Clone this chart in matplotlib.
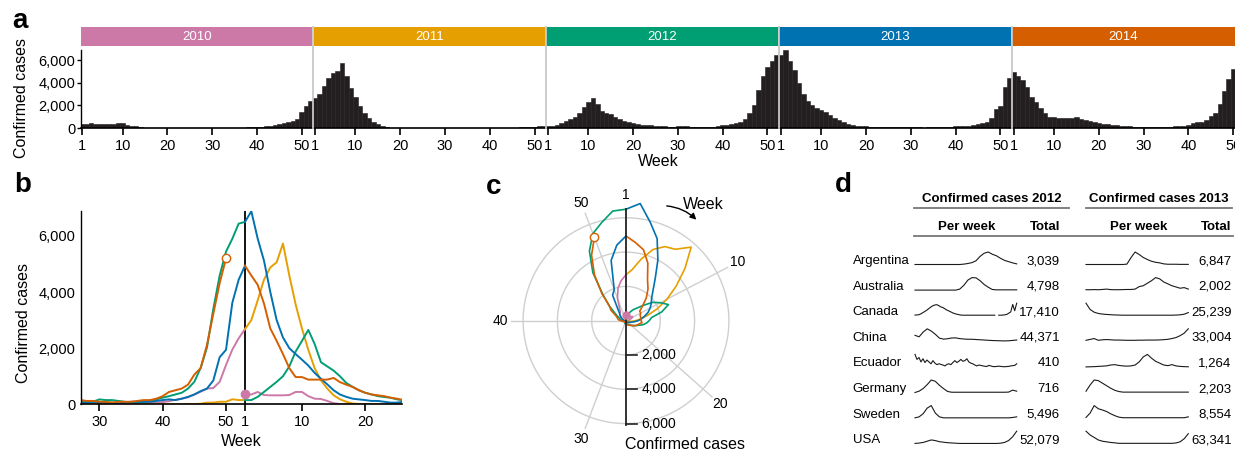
import numpy as np
import matplotlib
matplotlib.use('Agg')
import matplotlib.pyplot as plt
import matplotlib.transforms as mtransforms
from matplotlib.patches import Rectangle
from matplotlib.ticker import FuncFormatter

plt.rcParams['font.family'] = ['Liberation Sans', 'DejaVu Sans']

# weekly confirmed cases
years = [2010, 2011, 2012, 2013, 2014]
year_colors = ['#CC79A7', '#E69F00', '#009E73', '#0072B2', '#D55E00']

cases_2010 = [350, 350, 440, 330, 320, 320, 320, 330, 440, 440,
              290, 200, 190, 120, 40, 10, 5, 5, 0, 0,
              0, 0, 0, 0, 0, 0, 0, 0, 0, 0,
              0, 0, 10, 10, 20, 30, 40, 50, 60, 80,
              110, 160, 200, 250, 350, 450, 560, 580, 800, 1400,
              1950, 2350]
cases_2011 = [2680, 3000, 3700, 4440, 4880, 5060, 5730, 4590, 3560, 2700,
              1940, 1290, 850, 560, 320, 180, 90, 30, 10, 5,
              0, 0, 0, 0, 0, 0, 0, 0, 0, 0,
              0, 0, 0, 0, 0, 0, 0, 0, 0, 0,
              0, 0, 0, 5, 10, 20, 60, 60, 90, 90,
              180, 150]
cases_2012 = [150, 150, 265, 440, 620, 800, 1000, 1350, 1880, 2260,
              2650, 2150, 1500, 1350, 1200, 1000, 760, 620, 500, 410,
              350, 290, 260, 235, 175, 150, 150, 90, 90, 175,
              150, 150, 120, 90, 60, 60, 90, 120, 175, 235,
              290, 350, 410, 560, 800, 1300, 2030, 3400, 4590, 5440,
              5900, 6440]
cases_2013 = [6500, 6880, 5910, 5120, 4000, 3000, 2380, 2000, 1790, 1590,
              1380, 1120, 910, 710, 500, 350, 265, 200, 175, 150,
              120, 120, 90, 60, 60, 90, 60, 60, 90, 60,
              60, 60, 30, 60, 90, 90, 90, 90, 120, 150,
              175, 150, 200, 265, 350, 470, 560, 850, 1680, 1940,
              3620, 4440]
cases_2014 = [4940, 4590, 4260, 3590, 2700, 2260, 1790, 1290, 970, 970,
              880, 880, 880, 880, 940, 790, 700, 620, 500, 410,
              350, 320, 290, 235, 200, 150, 150, 120, 120, 90,
              90, 60, 90, 90, 90, 120, 150, 150, 200, 290,
              440, 500, 560, 700, 1060, 1290, 2120, 3230, 4320, 5200]
weekly_cases = [cases_2010, cases_2011, cases_2012, cases_2013, cases_2014]

# panel d: per-country weekly shapes (relative) and totals
countries = ['Argentina', 'Australia', 'Canada', 'China', 'Ecuador', 'Germany', 'Sweden', 'USA']
totals_2012 = [3039, 4798, 17410, 44371, 410, 716, 5496, 52079]
totals_2013 = [6847, 2002, 25239, 33004, 1264, 2203, 8554, 63341]

arg_2012 = [0, 0, 0, 0, 0, 0, 0, 0, 0, 0, 0, 0, 0.3, 0.8, 1.5, 3, 6.5, 9, 10, 8.2, 7, 5, 3.3, 2.3, 1.3, 0.5]
arg_2013 = [0, 0, 0, 0, 0, 0, 0, 0, 0, 0, 0.3, 5.5, 10, 8, 5.6, 4, 2.6, 1.8, 1.3, 0.5, 0.2, 0.2, 0.2, 0.1, 0.1, 0.1]
aus_2012 = [0, 0, 0, 0, 0, 0, 0, 0, 0, 0, 0, 0.8, 3.8, 8, 10, 9.8, 7.5, 4.5, 2.3, 0.5, 0.2, 0.2, 0.2, 0.2, 0.2, 0.2]
aus_2013 = [0.3, 0.3, 0.4, 0.3, 0.5, 0.8, 0.4, 0.3, 0.3, 0.4, 0.5, 0.5, 0.8, 2.8, 3.5, 5.5, 7.5, 10, 9, 6.5, 5, 3.5, 2.5, 1.5, 2, 0.8]
can_2012 = [0.5, 0.6, 0.8, 1.5, 2.5, 3.5, 4.5, 5.8, 7, 8, 8.6, 8.8, 8, 7, 6.5, 5.5, 4.5, 3.8, 3, 2.2,
            1.6, 1.2, 0.8, 0.5, 0.4, 0.4, 0.4, 0.4, 0.4, 0.4, 0.4, 0.4, 0.4, 0.4, 0.4, 0.4, 0.4, 0.4, 0.4, 0.4,
            0.4, np.nan, 0.4, 0.4, 0.5, 0.7, 1, 2, 3, 9, 4, 10]
can_2013 = [10, 5, 2.8, 1.8, 1.3, 1, 0.8, 0.6, 0.5, 0.4, 0.4, 0.4, 0.4, 0.4, 0.4, 0.4, 0.4, 0.4, 0.4, 0.4, 0.4, 0.4, 0.5, 0.7, 1.2, 2.5]
chn_2012 = [4.7, 3.5, 7.2, 9.8, 8, 5.5, 2.5, 1.7, 2, 2.6, 2.7, 2.1, 1.8, 1.6, 1.6, 1.4, 1.2, 1, 0.8, 0.6, 0.5, 0.4, 0.3, 0.4, 0.7, 1]
chn_2013 = [0.8, 1.5, 2.2, 0.8, 1.2, 1.4, 1.2, 1, 1, 0.9, 0.8, 0.8, 0.8, 0.9, 0.9, 1, 1, 1, 1.1, 1.3, 1.6, 2.2, 3, 4.5, 6.5, 10]
ecu_2012 = [10, 6, 7.5, 4, 6.5, 3.5, 5.5, 4, 2.5, 5, 3, 1.8, 2.5, 2, 1.5, 0.8, 2, 2.5, 1.8, 3.5,
            5, 3.5, 4.5, 6, 4.5, 5, 6.5, 4, 3, 2.5, 1.5, 0.8, 1.5, 1.2, 0.8, 0.5, 0.3, 1.2, 0.8, 0.3,
            0.2, 0.4, 0.6, 0.4, 0.2, 0.1, 0.3, 0.4, 0.8, 1, 1.2, 2.5]
ecu_2013 = [0, 0.1, 0.2, 0.4, 0.6, 0.8, 1.5, 1.8, 1.2, 0.8, 0.6, 0.8, 1.5, 4, 8, 10, 7, 4.5, 3, 1.5, 1, 1.8, 0.8, 0.4, 0.2, 0.1]
ger_2012 = [0, 1, 3, 6, 9.5, 8.5, 5.5, 3, 0.8, 0.2, 0.2, 0.2, 0.2, 0.2, 0.2, 0.2, 0.2, 0.2, 0.2, 0.2, 0.2, 0.2, 0.2, 0.3, 1.8, 1]
ger_2013 = [1, 6, 10, 9.5, 7.5, 5.5, 3.5, 1.8, 0.8, 0.3, 0.3, 0.3, 0.3, 0.3, 0.3, 0.3, 0.3, 0.3, 0.3, 0.3, 0.3, 0.3, 0.3, 0.3, 0.3, 0.3]
swe_2012 = [0.2, 1, 3.5, 8, 10, 4, 1, 0.2, 0.2, 0.2, 0.2, 0.2, 0.2, 0.2, 0.2, 0.2, 0.2, 0.2, 0.2, 0.2, 0.2, 0.2, 0.2, 0.2, 0.5, 1]
swe_2013 = [0.5, 4, 10, 7.5, 6.5, 5.3, 3.5, 2, 0.8, 0.3, 0.3, 0.3, 0.3, 0.3, 0.3, 0.3, 0.3, 0.3, 0.3, 0.3, 0.3, 0.3, 0.3, 0.3, 0.3, 1]
usa_2012 = [0.2, 0.5, 1, 2, 3, 2.5, 1.6, 1.2, 0.8, 0.6, 0.4, 0.2, 0.2, 0.2, 0.2, 0.2, 0.2, 0.2, 0.2, 0.2, 0.2, 0.4, 1, 2.5, 5.5, 10]
usa_2013 = [10, 7, 5, 3, 2, 1.5, 1, 0.7, 0.3, 0.3, 0.3, 0.3, 0.3, 0.3, 0.3, 0.3, 0.3, 0.3, 0.3, 0.3, 0.3, 0.3, 0.6, 1.5, 4, 8]
spark_2012 = [arg_2012, aus_2012, can_2012, chn_2012, ecu_2012, ger_2012, swe_2012, usa_2012]
spark_2013 = [arg_2013, aus_2013, can_2013, chn_2013, ecu_2013, ger_2013, swe_2013, usa_2013]

W, H = 1235, 451
fig = plt.figure(figsize=(W / 100, H / 100), dpi=100)
BAR = '#231f20'


def axes_px(left, top, right, bottom):
    return fig.add_axes([left / W, 1 - bottom / H, (right - left) / W, (bottom - top) / H])


def panel_letter(x, y, s):
    fig.text(x / W, 1 - y / H, s, fontsize=20, fontweight='bold', ha='left', va='center')


comma = FuncFormatter(lambda v, p: f'{v:,.0f}')

# ---- panel a: weekly histogram 2010-2014
ax = axes_px(81, 50, 1235, 128)
for i, vals in enumerate(weekly_cases):
    t = 52 * i + np.arange(len(vals))
    ax.bar(t, vals, width=1.0, color=BAR, edgecolor=BAR, linewidth=0.4)
ax.set_xlim(-0.29, 257.4)
ax.set_ylim(0, 6900)
trans = mtransforms.blended_transform_factory(ax.transData, ax.transAxes)
xl = ax.get_xlim()
for i, (yr, col) in enumerate(zip(years, year_colors)):
    x0 = max(52 * i - 0.5, xl[0]) + (0.15 if i > 0 else 0)
    x1 = min(52 * i + 51.5, xl[1]) - (0.15 if i < 4 else 0)
    ax.add_patch(Rectangle((x0, 1.055), x1 - x0, 0.236, transform=trans,
                           facecolor=col, linewidth=0, clip_on=False))
    ax.text((x0 + x1) / 2, 1.173, str(yr), transform=trans, ha='center', va='center',
            color='white', fontsize=9.5)
for i in range(1, 5):
    ax.plot([52 * i - 0.5] * 2, [0, 1.291], transform=trans, color='#c8c8c8', lw=1.3,
            clip_on=False, zorder=3)
week_ticks = [1, 10, 20, 30, 40, 50]
ax.set_xticks([52 * i + w - 1 for i in range(5) for w in week_ticks])
ax.set_xticklabels([str(w) for i in range(5) for w in week_ticks])
ax.set_yticks([0, 2000, 4000, 6000])
ax.yaxis.set_major_formatter(comma)
for s in ('top', 'right'):
    ax.spines[s].set_visible(False)
ax.spines['bottom'].set_linewidth(1.2)
ax.spines['left'].set_linewidth(1.0)
ax.tick_params(axis='x', length=5, width=1.2, labelsize=10.5, pad=3)
ax.tick_params(axis='y', length=3, width=1, labelsize=10.5, pad=1)
ax.set_xlabel('Week', fontsize=11.5, labelpad=1)
ax.set_ylabel('Confirmed cases', fontsize=11.5)
ax.yaxis.set_label_coords(-0.045, 0.39)
panel_letter(12, 21, 'a')

# ---- panel b: seasons overlaid, week 27 .. week 26
axb = axes_px(81, 210.7, 401.7, 404.3)
for i, (vals, col) in enumerate(zip(weekly_cases, year_colors)):
    left = list(vals[26:])
    if i + 1 < len(weekly_cases):
        left.append(weekly_cases[i + 1][0])
    axb.plot(np.arange(len(left)) - 26, left, color=col, lw=1.4, zorder=2 + i * 0.1)
    right = vals[:26]
    axb.plot(np.arange(len(right)), right, color=col, lw=1.4, zorder=2 + i * 0.1)
axb.plot([0], [cases_2010[0]], 'o', color=year_colors[0], ms=6, zorder=4)
axb.plot([len(cases_2014) - 53], [cases_2014[-1]], 'o', mfc='white', mec=year_colors[4],
         ms=6, mew=1, zorder=4)
axb.axvline(0, color='black', lw=1.3, zorder=1.5)
axb.set_xlim(-25.9, 24.75)
axb.set_ylim(0, 6900)
axb.set_xticks([-23, -13, -3, 0, 9, 19])
axb.set_xticklabels(['30', '40', '50', '1', '10', '20'])
axb.set_yticks([0, 2000, 4000, 6000])
axb.yaxis.set_major_formatter(comma)
for s in ('top', 'right'):
    axb.spines[s].set_visible(False)
axb.spines['bottom'].set_linewidth(1.2)
axb.spines['left'].set_linewidth(1.0)
axb.tick_params(axis='x', length=5, width=1.2, labelsize=10.5, pad=3)
axb.tick_params(axis='y', length=0, labelsize=10.5, pad=4)
axb.set_xlabel('Week', fontsize=11.5, labelpad=3)
axb.set_ylabel('Confirmed cases', fontsize=11.5)
axb.yaxis.set_label_coords(-0.155, 0.42)
panel_letter(14, 185, 'b')

# ---- panel c: polar view, week 1 at top, clockwise
axc = axes_px(470, 180, 790, 451)
axc.axis('off')
cx, cy = 626, 320.7
k = 34.3 / 2000
axc.set_xlim((470 - cx) / k, (790 - cx) / k)
axc.set_ylim((cy - 451) / k, (cy - 180) / k)
ring = np.linspace(0, 2 * np.pi, 300)
for r in (2000, 4000, 6000):
    axc.plot(r * np.sin(ring), r * np.cos(ring), color='#cfcfcf', lw=1.0, zorder=1)
for w in (10, 20, 30, 40, 50):
    a = (w - 1) / 52 * 2 * np.pi
    axc.plot([0, 6700 * np.sin(a)], [0, 6700 * np.cos(a)], color='#cfcfcf', lw=1.0, zorder=1)
    axc.text(7350 * np.sin(a), 7350 * np.cos(a), str(w), ha='center', va='center', fontsize=10)
axc.text(0, 7350, '1', ha='center', va='center', fontsize=10)
for i, (vals, col) in enumerate(zip(weekly_cases, year_colors)):
    loop = list(vals)
    if i + 1 < len(weekly_cases):
        loop.append(weekly_cases[i + 1][0])
    r = np.array(loop, float)
    a = np.arange(len(r)) / 52 * 2 * np.pi
    axc.plot(r * np.sin(a), r * np.cos(a), color=col, lw=1.2, zorder=2 + i * 0.1)
axc.plot([0], [cases_2010[0]], 'o', color=year_colors[0], ms=5, zorder=4)
a_end = (len(cases_2014) - 1) / 52 * 2 * np.pi
axc.plot([cases_2014[-1] * np.sin(a_end)], [cases_2014[-1] * np.cos(a_end)], 'o',
         mfc='white', mec=year_colors[4], ms=6, mew=1, zorder=4)
axc.plot([0, 0], [-6060, 6530], color='#222222', lw=1.3, zorder=3)
for v in (2000, 4000, 6000):
    axc.plot([0, 620], [-v, -v], color='#222222', lw=1.2, zorder=3)
    axc.text(900, -v, f'{v:,}', ha='left', va='center', fontsize=10)
axc.text(-60, -7190, 'Confirmed cases', ha='left', va='center', fontsize=11.5)
axc.annotate('', xy=(4216, 5773), xytext=(2216, 6706),
             arrowprops=dict(arrowstyle='-|>', color='black', lw=1.0,
                             mutation_scale=9, connectionstyle='arc3,rad=-0.2'))
axc.text(3306, 6787, 'Week', ha='left', va='center', fontsize=11.5)
panel_letter(486, 187, 'c')

# ---- panel d: table of sparklines per country
axd = axes_px(830, 175, 1235, 451)
axd.axis('off')
axd.set_xlim(830, 1235)
axd.set_ylim(451, 175)
axd.text(991.7, 199, 'Confirmed cases 2012', ha='center', va='center', fontsize=9.5, fontweight='bold')
axd.text(1159.3, 199, 'Confirmed cases 2013', ha='center', va='center', fontsize=9.5, fontweight='bold')
axd.plot([914, 1069.3], [207.7, 207.7], color='#777777', lw=1.3)
axd.plot([1086, 1231.7], [207.7, 207.7], color='#777777', lw=1.3)
axd.text(966.7, 226.7, 'Per week', ha='center', va='center', fontsize=9.5, fontweight='bold')
axd.text(1060, 226.7, 'Total', ha='right', va='center', fontsize=9.5, fontweight='bold')
axd.text(1138.3, 226.7, 'Per week', ha='center', va='center', fontsize=9.5, fontweight='bold')
axd.text(1231.7, 226.7, 'Total', ha='right', va='center', fontsize=9.5, fontweight='bold')
axd.plot([914, 1233], [235.7, 235.7], color='#777777', lw=1.3)
for i, name in enumerate(countries):
    y = 261 + i * 25.6
    axd.text(852.7, y, name, ha='left', va='center', fontsize=9.5)
    for vals, x0, x1 in ((spark_2012[i], 915, 1016.7), (spark_2013[i], 1086, 1188.3)):
        v = np.asarray(vals, float)
        xs = np.linspace(x0, x1, len(v))
        axd.plot(xs, y + 3.5 - v / np.nanmax(v) * 12.5, color='#1a1a1a', lw=0.8)
    axd.text(1060, y, f'{totals_2012[i]:,}', ha='right', va='center', fontsize=9.5)
    axd.text(1231.7, y, f'{totals_2013[i]:,}', ha='right', va='center', fontsize=9.5)
panel_letter(835, 185, 'd')

fig.savefig('out.png', dpi=100)
